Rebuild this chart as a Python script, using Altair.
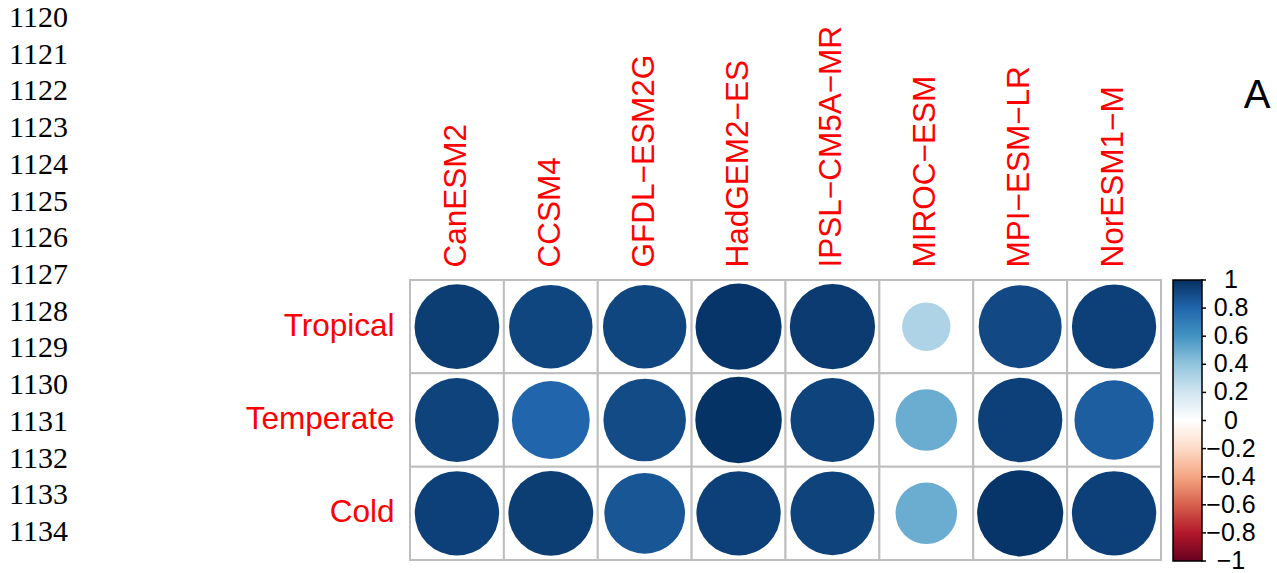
import altair as alt
import pandas as pd

models = ["CanESM2", "CCSM4", "GFDL−ESM2G", "HadGEM2−ES", "IPSL−CM5A−MR",
          "MIROC−ESM", "MPI−ESM−LR", "NorESM1−M"]
regions = ["Tropical", "Temperate", "Cold"]
tropical = [0.95, 0.92, 0.92, 0.98, 0.96, 0.31, 0.91, 0.94]
temperate = [0.93, 0.80, 0.90, 0.99, 0.93, 0.50, 0.94, 0.83]
cold = [0.94, 0.95, 0.86, 0.94, 0.93, 0.50, 0.98, 0.94]
line_numbers = [1120, 1121, 1122, 1123, 1124, 1125, 1126, 1127, 1128, 1129,
                1130, 1131, 1132, 1133, 1134]
legend_values = [-1, -0.8, -0.6, -0.4, -0.2, 0, 0.2, 0.4, 0.6, 0.8, 1]
legend_labels = ["−1", "−0.8", "−0.6", "−0.4", "−0.2", "0", "0.2", "0.4",
                 "0.6", "0.8", "1"]
rdbu = ["#67001F", "#B2182B", "#D6604D", "#F4A582", "#FDDBC7", "#FFFFFF",
        "#D1E5F0", "#92C5DE", "#4393C3", "#2166AC", "#053061"]

rows = []
for reg, vals in zip(regions, [tropical, temperate, cold]):
    for m, v in zip(models, vals):
        rows.append({"model": m, "region": reg, "value": v, "absval": abs(v)})
df = pd.DataFrame(rows)

FONT = "Liberation Sans"

x_enc = alt.X("model:N", sort=models,
              scale=alt.Scale(paddingInner=0, paddingOuter=0),
              axis=alt.Axis(orient="top", labelAngle=270, labelAlign="left",
                            labelBaseline="middle", labelPadding=13,
                            labelFontSize=31.5, labelColor="#FF0000",
                            labelFont=FONT, domain=False, ticks=False,
                            grid=False, title=None, labelLimit=400))
y_enc = alt.Y("region:N", sort=regions,
              scale=alt.Scale(paddingInner=0, paddingOuter=0),
              axis=alt.Axis(labelPadding=16, labelFontSize=31.5,
                            labelColor="#FF0000", labelFont=FONT,
                            domain=False, ticks=False, grid=False,
                            title=None, labelLimit=400))

base = alt.Chart(df)
cells = base.mark_rect(fill="white", stroke="#BEBEBE", strokeWidth=2).encode(
    x=x_enc, y=y_enc)
circles = base.mark_circle(opacity=1).encode(
    x=x_enc, y=y_enc,
    size=alt.Size("absval:Q", scale=alt.Scale(domain=[0, 1], range=[0, 7569]),
                  legend=None),
    color=alt.Color("value:Q",
                    scale=alt.Scale(domain=legend_values, range=rdbu,
                                    interpolate="rgb"),
                    legend=alt.Legend(orient="none", legendX=763, legendY=0,
                                      direction="vertical", title=None,
                                      gradientLength=281, gradientThickness=29,
                                      gradientStrokeColor="black",
                                      gradientStrokeWidth=1.5,
                                      labelExpr="''", labelFontSize=1)))
grid = alt.layer(cells, circles)

leg_df = pd.DataFrame({"t": legend_values, "lab": legend_labels})
leg_y = alt.Y("t:Q", scale=alt.Scale(domain=[-1, 1], range=[281, 0]), axis=None)
ticks = alt.Chart(leg_df).mark_rule(color="black", strokeWidth=1.5).encode(
    y=leg_y, x=alt.value(791), x2=alt.value(796))
tick_labels = alt.Chart(leg_df).mark_text(
    align="center", baseline="middle", font=FONT, fontSize=25,
    color="black").encode(y=leg_y, x=alt.value(821), text="lab:N")

numbers = alt.Chart(pd.DataFrame({"n": line_numbers})).mark_text(
    align="left", baseline="middle", font="Liberation Serif", fontSize=30,
    color="black").encode(
    y=alt.Y("n:Q", scale=alt.Scale(domain=[1120, 1134], range=[-262, 252]),
            axis=None),
    x=alt.value(-401),
    text=alt.Text("n:Q", format="d"))

label_a = alt.Chart(pd.DataFrame({"t": ["A"]})).mark_text(
    align="center", baseline="middle", font=FONT, fontSize=40,
    color="black").encode(
    text="t:N", x=alt.value(847), y=alt.value(-184))

chart = alt.layer(grid, alt.layer(ticks, tick_labels), numbers, label_a).resolve_scale(
    y="independent"
).properties(
    width=751, height=280, autosize="none",
    padding={"left": 410, "top": 280, "right": 116, "bottom": 13},
    background="white"
).configure_view(stroke=None)

chart.save("out.html", embed_options={"renderer": "svg", "actions": False})
